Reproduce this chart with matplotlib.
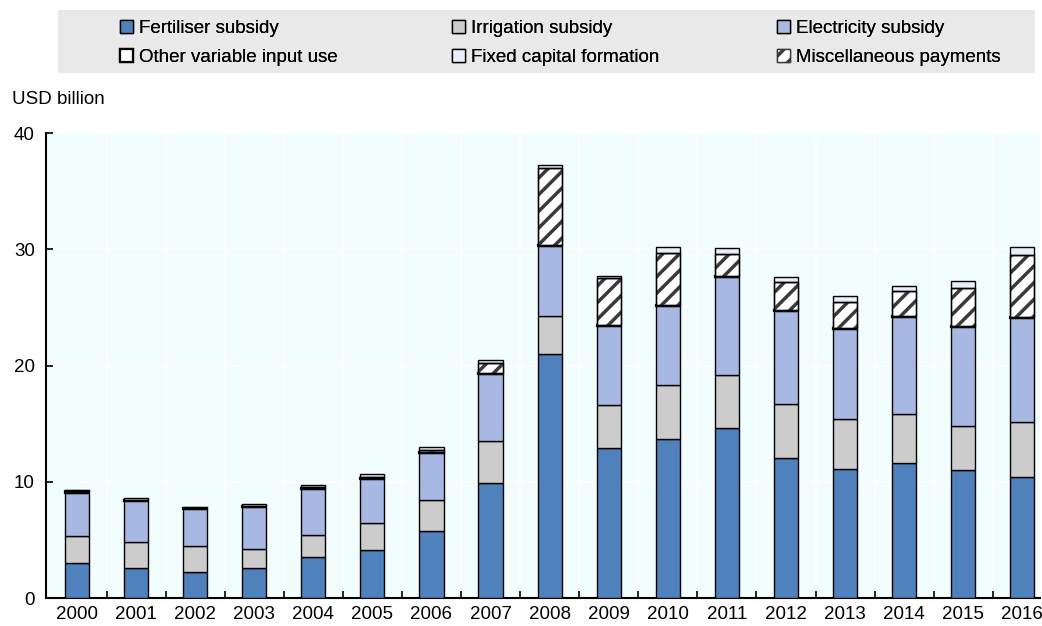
import matplotlib
matplotlib.use('Agg')
import matplotlib.pyplot as plt
from matplotlib.patches import Rectangle
import numpy as np

plt.rcParams['font.family'] = ['Liberation Sans Narrow', 'Liberation Sans', 'DejaVu Sans']
plt.rcParams['hatch.linewidth'] = 2.5

years = ['2000', '2001', '2002', '2003', '2004', '2005', '2006', '2007', '2008',
         '2009', '2010', '2011', '2012', '2013', '2014', '2015', '2016']

# cumulative tops, converted to segment values below
fert = [2.98, 2.61, 2.27, 2.55, 3.53, 4.13, 5.76, 9.90, 21.0, 12.9, 13.68, 14.6, 12.04, 11.1, 11.6, 11.0, 10.41]
irr_top = [5.36, 4.79, 4.50, 4.24, 5.42, 6.45, 8.43, 13.5, 24.26, 16.6, 18.3, 19.2, 16.7, 15.4, 15.83, 14.8, 15.14]
elec_top = [9.06, 8.37, 7.66, 7.80, 9.35, 10.21, 12.47, 19.27, 30.28, 23.4, 25.1, 27.6, 24.7, 23.17, 24.2, 23.28, 24.11]
other_var = [0.12, 0.10, 0.10, 0.10, 0.10, 0.12, 0.10, 0.10, 0.08, 0.08, 0.08, 0.08, 0.08, 0.08, 0.08, 0.08, 0.08]
misc_top = [9.18, 8.47, 7.76, 7.95, 9.55, 10.45, 12.75, 20.25, 37.0, 27.5, 29.65, 29.6, 27.15, 25.44, 26.4, 26.7, 29.48]
total = [9.26, 8.57, 7.86, 8.11, 9.69, 10.69, 12.99, 20.5, 37.25, 27.73, 30.17, 30.1, 27.64, 25.95, 26.81, 27.27, 30.17]

fert = np.array(fert)
irr = np.array(irr_top) - fert
elec = np.array(elec_top) - np.array(irr_top)
other_var = np.array(other_var)
misc = np.array(misc_top) - np.array(elec_top) - other_var
fixed = np.array(total) - np.array(misc_top)

x = np.arange(len(years))
w = 0.41

fig = plt.figure(figsize=(10.42, 6.26), dpi=100)
ax = fig.add_axes([0.0441, 0.0447, 0.954, 0.7428])
ax.set_facecolor('#f2fdfd')

bottom = np.zeros(len(years))
b1 = ax.bar(x, fert, w, bottom=bottom, color='#4f81bd', edgecolor='black', linewidth=1, zorder=3)
bottom += fert
b2 = ax.bar(x, irr, w, bottom=bottom, color='#cccccc', edgecolor='black', linewidth=1, zorder=3)
bottom += irr
b3 = ax.bar(x, elec, w, bottom=bottom, color='#a7b9e3', edgecolor='black', linewidth=1, zorder=3)
bottom += elec
b4 = ax.bar(x, other_var, w, bottom=bottom, color='white', edgecolor='black', linewidth=1.6, zorder=3)
bottom += other_var
b6 = ax.bar(x, misc, w, bottom=bottom, color='white', edgecolor='#3a3a3a', linewidth=1, hatch='//', zorder=3)
ax.bar(x, misc, w, bottom=bottom, color='none', edgecolor='black', linewidth=1, zorder=4)
bottom += misc
b5 = ax.bar(x, fixed, w, bottom=bottom, color='#eaeef6', edgecolor='black', linewidth=1, zorder=3)

ax.set_xlim(-0.525, 16.3)
ax.set_ylim(0, 40)
ax.set_yticks([0, 10, 20, 30, 40])
ax.set_xticks(x)
ax.set_xticklabels(years)
ax.set_xticks(x[:-1] + 0.5, minor=True)
ax.tick_params(axis='x', which='major', length=0, labelsize=13.5, pad=6)
ax.tick_params(axis='x', which='minor', direction='in', length=5, width=1.2)
ax.tick_params(axis='y', direction='in', length=5, width=1.2, labelsize=13.5, pad=8)

for yv in [10, 20, 30]:
    ax.axhline(yv, color='white', linewidth=1.2, zorder=1)
for xv in x[:-1] + 0.5:
    ax.axvline(xv, color='white', linewidth=1.2, zorder=1)

for s in ['top', 'right']:
    ax.spines[s].set_visible(False)
ax.spines['left'].set_linewidth(1.5)
ax.spines['bottom'].set_linewidth(1.5)

fig.text(12 / 1042, 1 - 100 / 626, 'USD billion', fontsize=13.5, va='center', ha='left')

# legend background band
fig.patches.append(Rectangle((58 / 1042, 1 - 73 / 626), 977 / 1042, 63 / 626,
                             transform=fig.transFigure, facecolor='#e9e9e9',
                             edgecolor='none', zorder=0))

columns = [([b1, b4], ['Fertiliser subsidy', 'Other variable input use'], 120),
           ([b2, b5], ['Irrigation subsidy', 'Fixed capital formation'], 452),
           ([b3, b6], ['Electricity subsidy', 'Miscellaneous payments'], 777)]
for hs, ls, px in columns:
    leg = fig.legend(hs, ls, loc='center left',
                     bbox_to_anchor=(px / 1042, 1 - 43 / 626),
                     frameon=False, fontsize=13.5, handlelength=0.7,
                     handleheight=0.7, handletextpad=0.3, borderaxespad=0,
                     labelspacing=0.62, borderpad=0)
    fig.add_artist(leg)

fig.savefig('out.png', dpi=100)
